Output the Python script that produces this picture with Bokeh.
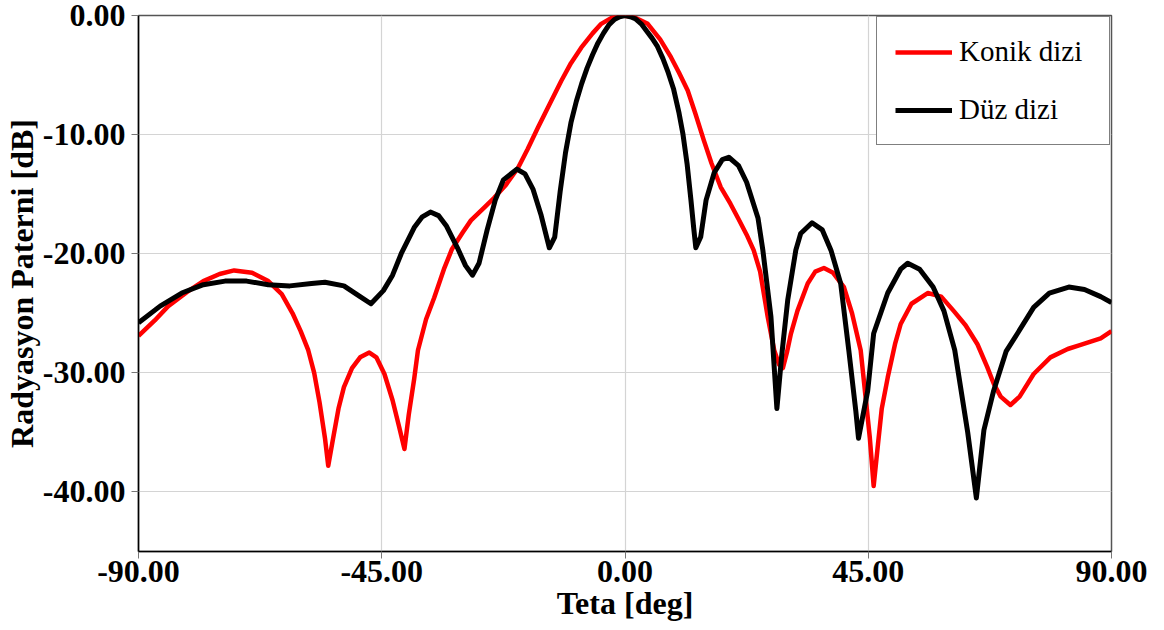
from bokeh.plotting import figure
from bokeh.models import FixedTicker, NumeralTickFormatter, Range1d, Legend, LegendItem
from bokeh.embed import file_html
from bokeh.resources import INLINE

# --- data ---
konik_theta = [-90, -87, -84.5, -81, -78, -75, -72.3, -69, -66, -63.5, -61.5, -60, -58.6, -57.5,
               -56.5, -55.5, -54.9, -54, -53, -52, -50.5, -49, -47.3, -46, -44.5, -43, -41.8,
               -40.8, -40, -39, -38.3, -36.8, -35.3, -33.5, -32, -30, -28.5, -26, -24.2, -22,
               -19.8, -18, -16.1, -14, -11.8, -10, -8.1, -6, -4.4, -2.5, -0.7, 1.5, 4.2, 6.5,
               8.5, 10, 11.6, 13, 14.6, 16, 17.7, 19.5, 20.9, 22.5, 23.8, 25, 26.4, 27.6, 28.5,
               29.2, 30.0, 30.7, 31.9, 33.8, 35.2, 36.8, 38.5, 40.5, 42, 43.6, 44.5, 45.3, 46.0,
               46.8, 47.5, 48.6, 50, 51, 53, 56, 58.5, 60.8, 63, 65.2, 67, 68.2, 69.5, 71.3, 73,
               75.6, 78.7, 81.9, 84, 88, 90]
konik_db = [-26.9, -25.6, -24.4, -23.2, -22.3, -21.7, -21.4, -21.6, -22.3, -23.4, -25.0, -26.5,
            -28.1, -30.0, -32.5, -35.5, -37.8, -35.5, -33.0, -31.2, -29.6, -28.7, -28.3, -28.7,
            -30.1, -32.3, -34.5, -36.4, -33.5, -30.5, -28.1, -25.5, -23.7, -21.3, -19.6, -18.2,
            -17.2, -16.1, -15.3, -14.2, -12.8, -11.2, -9.4, -7.5, -5.5, -4.0, -2.7, -1.5, -0.7,
            -0.2, 0.0, -0.1, -0.7, -2.0, -3.5, -4.8, -6.3, -8.2, -10.5, -12.4, -14.4, -15.8,
            -17.0, -18.4, -19.7, -21.5, -25.3, -28.1, -29.3, -29.6, -28.2, -26.7, -24.8, -22.5,
            -21.5, -21.2, -21.6, -22.8, -25.0, -28.1, -32.0, -35.5, -39.5, -36.0, -33.0, -30.4,
            -27.5, -25.9, -24.2, -23.3, -23.6, -24.8, -26.0, -27.6, -29.5, -30.9, -32.0, -32.7,
            -32.0, -30.1, -28.7, -28.0, -27.7, -27.1, -26.5]

duz_theta = [-90, -86, -82, -78, -74, -70, -66, -62, -58, -55.5, -52, -49, -47, -44.7, -43,
             -41.4, -39, -37.5, -36, -34.5, -33, -31, -29.5, -28.2, -27, -25.5, -24, -22.5,
             -20, -18.5, -17, -15.5, -14, -13, -12, -11, -10, -9, -8, -7, -6, -5, -4, -3, -2,
             -1, 0, 1, 2, 3, 4, 5, 6, 7, 8, 9, 10, 10.7, 11.5, 12.2, 12.7, 13.1, 14, 15, 16.5,
             18, 19.2, 21, 22.5, 24.6, 25.5, 27, 28.1, 29, 30.1, 31.6, 32.5, 34.6, 36.5, 38.1,
             39.9, 41.4, 42.7, 43.2, 44.9, 46, 48.6, 51, 52.3, 54.5, 57, 59, 61, 63.4, 65,
             66.4, 68.2, 70.5, 72.6, 75.6, 78.5, 82.1, 85, 88, 90]
duz_db = [-25.8, -24.4, -23.3, -22.6, -22.3, -22.3, -22.6, -22.7, -22.5, -22.4, -22.7, -23.6,
          -24.2, -23.1, -21.8, -20.0, -17.8, -16.9, -16.5, -16.8, -17.7, -19.5, -21.0, -21.8,
          -20.8, -18.0, -15.5, -13.8, -12.9, -13.3, -14.6, -16.8, -19.5, -18.6, -14.8, -11.5,
          -9.0, -7.2, -5.7, -4.4, -3.3, -2.3, -1.5, -0.8, -0.35, -0.1, 0.0, -0.1, -0.3, -0.7,
          -1.3, -1.9, -2.6, -3.6, -4.8, -6.2, -8.2, -9.9, -12.5, -15.5, -17.8, -19.5, -18.6,
          -15.5, -13.2, -12.1, -11.9, -12.6, -14.0, -17.0, -19.7, -25.3, -33.0, -28.5, -23.9,
          -19.7, -18.3, -17.4, -18.0, -19.7, -22.5, -28.1, -33.2, -35.5, -31.5, -26.7, -23.3,
          -21.3, -20.8, -21.3, -22.8, -24.8, -28.1, -35.0, -40.5, -34.8, -31.5, -28.2, -26.7,
          -24.5, -23.3, -22.8, -23.0, -23.6, -24.1]

x_ticks = [-90, -45, 0, 45, 90]
y_ticks = [0, -10, -20, -30, -40]

FONT = "Liberation Serif"

p = figure(width=1164, height=630, output_backend="svg", toolbar_location=None,
           x_range=Range1d(-90, 90), y_range=Range1d(-45, 0),
           min_border_left=137, min_border_right=53, min_border_top=15, min_border_bottom=79)

r_konik = p.line(konik_theta, konik_db, line_color="#ff0000", line_width=4.5, line_join="round")
r_duz = p.line(duz_theta, duz_db, line_color="#000000", line_width=5, line_join="round")

p.xaxis.ticker = FixedTicker(ticks=x_ticks)
p.yaxis.ticker = FixedTicker(ticks=y_ticks)
p.xaxis.formatter = NumeralTickFormatter(format="0.00")
p.yaxis.formatter = NumeralTickFormatter(format="0.00")

for ax in (p.xaxis[0], p.yaxis[0]):
    ax.major_label_text_font = FONT
    ax.major_label_text_font_style = "bold"
    ax.major_label_text_font_size = "32px"
    ax.major_label_text_color = "#000000"
    ax.axis_label_text_font = FONT
    ax.axis_label_text_font_style = "bold"
    ax.axis_label_text_font_size = "32px"
    ax.axis_label_text_color = "#000000"
    ax.axis_line_color = "#000000"
    ax.axis_line_width = 1.5
    ax.major_tick_line_color = "#777777"
    ax.major_tick_in = 0
    ax.major_tick_out = 7
    ax.minor_tick_line_color = None

p.xaxis.axis_label = "Teta [deg]"
p.yaxis.axis_label = "Radyasyon Paterni [dB]"
p.xaxis.major_label_standoff = 2
p.xaxis.axis_label_standoff = 0
p.yaxis.major_label_standoff = 6
p.yaxis.axis_label_standoff = 0

p.xgrid.ticker = FixedTicker(ticks=[-45, 0, 45])
p.ygrid.ticker = FixedTicker(ticks=[-10, -20, -30, -40])
p.grid.grid_line_color = "#d4d4d4"
p.grid.grid_line_width = 1.2

p.outline_line_color = "#555555"
p.outline_line_width = 1.5
p.background_fill_color = "#ffffff"
p.border_fill_color = "#ffffff"

legend = Legend(items=[LegendItem(label="Konik dizi", renderers=[r_konik]),
                       LegendItem(label="Düz dizi", renderers=[r_duz])],
                location="top_right")
legend.label_text_font = FONT
legend.label_text_font_size = "29px"
legend.label_text_color = "#000000"
legend.label_height = 24
legend.glyph_height = 24
legend.glyph_width = 57
legend.label_standoff = 7
legend.label_width = 132
legend.spacing = 25
legend.padding = 18
legend.margin = 1
legend.border_line_color = "#000000"
legend.border_line_width = 1.5
legend.background_fill_color = "#ffffff"
legend.background_fill_alpha = 1.0
p.add_layout(legend, "center")

open("out.html", "w").write(file_html(p, INLINE))
